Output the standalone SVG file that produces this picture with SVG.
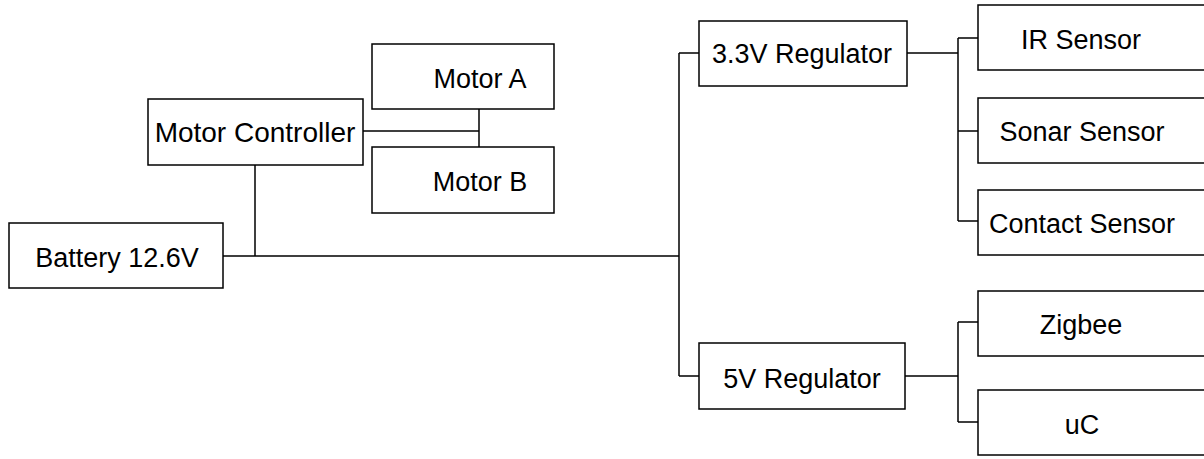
<svg xmlns="http://www.w3.org/2000/svg" width="1204" height="459" viewBox="0 0 1204 459">
<style>
.box{fill:#fff;stroke:#000;stroke-width:1.5}
.lbl{font-family:"Liberation Sans",Arial,sans-serif;font-size:27px;fill:#000;text-anchor:middle}
.wire{fill:none;stroke:#000;stroke-width:1.5}
</style>
<rect width="1204" height="459" fill="#fff"/>
<g id="connectors">
<path class="wire" d="M223,256 H679 M255,165 V256 M679,53 V376 M679,53 H699 M679,376 H699"/>
<path class="wire" d="M363,131 H479 M479,109 V147"/>
<path class="wire" d="M907,53 H958 M958,38 V221 M958,38 H978 M958,131 H978 M958,221 H978"/>
<path class="wire" d="M905,376 H958 M958,322 V422 M958,322 H978 M958,422 H978"/>
</g>
<g id="battery"><rect class="box" x="9" y="223" width="214" height="65"/><text class="lbl" x="117" y="267">Battery 12.6V</text></g>
<g id="motor-controller"><rect class="box" x="148" y="99" width="215" height="66"/><text class="lbl" x="255" y="142" style="font-size:28px">Motor Controller</text></g>
<g id="motor-a"><rect class="box" x="372" y="44" width="182" height="65"/><text class="lbl" x="480" y="88">Motor A</text></g>
<g id="motor-b"><rect class="box" x="372" y="147" width="182" height="66"/><text class="lbl" x="480" y="191">Motor B</text></g>
<g id="reg33"><rect class="box" x="699" y="21" width="208" height="65"/><text class="lbl" x="802" y="63">3.3V Regulator</text></g>
<g id="reg5"><rect class="box" x="699" y="343" width="206" height="66"/><text class="lbl" x="802" y="388">5V Regulator</text></g>
<g id="ir-sensor"><rect class="box" x="978" y="5" width="240" height="65"/><text class="lbl" x="1081" y="49">IR Sensor</text></g>
<g id="sonar-sensor"><rect class="box" x="978" y="98" width="240" height="65"/><text class="lbl" x="1082" y="141">Sonar Sensor</text></g>
<g id="contact-sensor"><rect class="box" x="978" y="190" width="240" height="65"/><text class="lbl" x="1082" y="233">Contact Sensor</text></g>
<g id="zigbee"><rect class="box" x="978" y="291" width="240" height="65"/><text class="lbl" x="1081" y="334">Zigbee</text></g>
<g id="uc"><rect class="box" x="978" y="390" width="240" height="65"/><text class="lbl" x="1082" y="434">uC</text></g>
</svg>
